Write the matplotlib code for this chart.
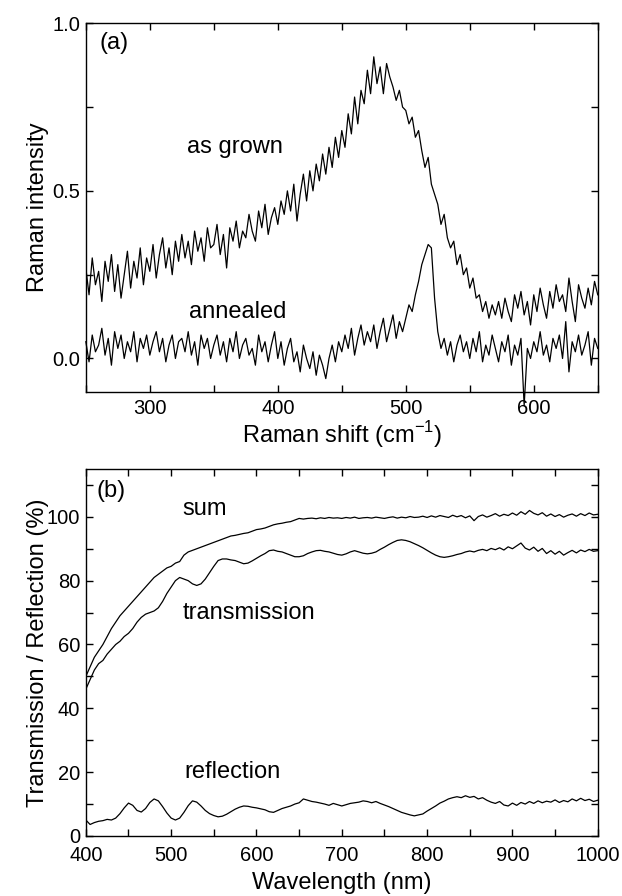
import matplotlib
matplotlib.use("Agg")
import matplotlib.pyplot as plt
import numpy as np
from matplotlib.ticker import MultipleLocator

plt.rcParams["font.family"] = ["Liberation Sans", "DejaVu Sans"]
plt.rcParams["mathtext.fontset"] = "custom"
plt.rcParams["mathtext.rm"] = "Liberation Sans"

# ---- (a) Raman spectra, sampled every 2.5 cm-1 from 250 to 650 ----
raman_shift = np.arange(250, 650.1, 2.5)

as_grown = [
    0.27, 0.19, 0.30, 0.22, 0.26, 0.17, 0.29, 0.23, 0.31, 0.20,
    0.28, 0.18, 0.25, 0.32, 0.21, 0.29, 0.24, 0.33, 0.22, 0.30,
    0.26, 0.34, 0.24, 0.31, 0.36, 0.27, 0.33, 0.25, 0.35, 0.29,
    0.37, 0.30, 0.35, 0.28, 0.38, 0.32, 0.36, 0.29, 0.39, 0.33,
    0.34, 0.40, 0.31, 0.37, 0.27, 0.39, 0.35, 0.41, 0.33, 0.38,
    0.36, 0.43, 0.38, 0.35, 0.44, 0.39, 0.46, 0.37, 0.42, 0.45,
    0.40, 0.47, 0.43, 0.50, 0.44, 0.52, 0.41, 0.49, 0.55, 0.47,
    0.56, 0.50, 0.58, 0.53, 0.61, 0.55, 0.63, 0.57, 0.66, 0.60,
    0.68, 0.63, 0.73, 0.67, 0.78, 0.70, 0.80, 0.76, 0.86, 0.79,
    0.90, 0.82, 0.87, 0.79, 0.88, 0.84, 0.81, 0.77, 0.80, 0.75,
    0.74, 0.70, 0.72, 0.66, 0.68, 0.62, 0.57, 0.60, 0.52, 0.49,
    0.46, 0.40, 0.43, 0.36, 0.33, 0.35, 0.28, 0.31, 0.25, 0.27,
    0.21, 0.24, 0.18, 0.19, 0.14, 0.17, 0.12, 0.16, 0.13, 0.17,
    0.12, 0.18, 0.14, 0.11, 0.19, 0.15, 0.20, 0.13, 0.17, 0.10,
    0.19, 0.14, 0.21, 0.16, 0.12, 0.20, 0.15, 0.22, 0.17, 0.19,
    0.14, 0.24, 0.17, 0.11, 0.22, 0.18, 0.15, 0.21, 0.16, 0.23,
    0.19,
]

annealed = [
    0.05, -0.01, 0.07, 0.02, 0.04, 0.09, 0.01, 0.06, -0.02, 0.08,
    0.03, 0.07, 0.00, 0.05, 0.02, 0.08, -0.01, 0.06, 0.03, 0.07,
    0.01, 0.05, 0.08, 0.02, 0.06, -0.01, 0.04, 0.07, 0.00, 0.05,
    0.06, 0.02, 0.08, 0.01, 0.05, -0.02, 0.07, 0.03, 0.06, 0.00,
    0.04, 0.07, 0.01, 0.05, -0.01, 0.06, 0.02, 0.08, 0.00, 0.04,
    0.06, 0.01, 0.03, -0.02, 0.07, 0.02, 0.05, -0.01, 0.04, 0.08,
    0.00, 0.05, -0.02, 0.03, 0.06, -0.01, 0.02, -0.04, 0.04, 0.00,
    -0.03, 0.02, -0.05, 0.01, -0.02, -0.06, 0.00, 0.04, -0.01, 0.05,
    0.02, 0.07, 0.03, 0.09, 0.01, 0.06, 0.10, 0.04, 0.08, 0.05,
    0.10, 0.03, 0.08, 0.12, 0.05, 0.09, 0.13, 0.06, 0.11, 0.08,
    0.12, 0.16, 0.14, 0.19, 0.23, 0.28, 0.31, 0.34, 0.33, 0.18,
    0.08, 0.03, 0.06, 0.01, 0.05, -0.01, 0.04, 0.07, 0.02, 0.05,
    0.00, 0.06, 0.02, 0.08, -0.01, 0.04, 0.01, 0.07, 0.03, -0.01,
    0.05, 0.02, 0.07, -0.02, 0.04, 0.01, 0.06, -0.14, 0.03, 0.00,
    0.05, 0.02, 0.08, 0.01, 0.04, -0.01, 0.06, 0.03, 0.07, 0.00,
    0.11, -0.04, 0.05, 0.02, 0.07, 0.01, 0.04, 0.08, -0.02, 0.06,
    0.03,
]

# ---- (b) optical spectra, sampled every 5 nm from 400 to 1000 ----
wavelength = np.arange(400, 1000.1, 5)

total = [
    50.0, 53.0, 56.0, 58.0, 60.0, 62.5, 65.0, 67.0, 69.0, 70.5,
    72.0, 73.5, 75.0, 76.5, 78.0, 79.5, 81.0, 82.0, 83.0, 84.0,
    84.5, 85.5, 86.0, 88.0, 89.0, 89.5, 90.0, 90.5, 91.0, 91.5,
    92.0, 92.5, 93.0, 93.5, 94.0, 94.2, 94.5, 94.8, 95.0, 95.5,
    96.0, 96.2, 96.5, 97.0, 97.5, 97.8, 98.0, 98.3, 98.5, 99.0,
    99.5, 99.3, 99.5, 99.6, 99.4, 99.7, 99.5, 99.8, 99.6, 99.7,
    99.5, 99.8, 99.6, 99.9, 99.5, 99.7, 99.8, 99.6, 99.9, 99.7,
    99.5, 99.8, 100.0, 99.6, 99.9, 99.7, 100.1, 99.8, 99.9, 100.2,
    99.8, 100.3, 99.9, 100.4, 100.1, 99.8, 100.5, 100.0, 100.4, 99.7,
    100.3, 98.8, 100.1, 100.6, 99.9, 100.4, 101.0, 100.2, 100.8, 100.4,
    101.2, 100.5, 101.6, 100.8, 102.0, 101.1, 100.6, 101.3, 100.2, 100.9,
    100.1, 100.7, 99.9, 100.5, 100.9, 100.2, 101.0, 100.4, 101.2, 100.6,
    100.8,
]

transmission = [
    46.0, 49.0, 52.0, 54.0, 55.0, 57.0, 58.5, 60.0, 61.0, 62.5,
    63.5, 65.0, 67.0, 68.5, 69.5, 70.0, 70.5, 71.5, 73.5, 76.0,
    78.0, 80.0, 81.0, 80.5, 80.0, 79.0, 78.5, 79.0, 80.5, 82.5,
    84.5, 86.3, 86.8, 86.8, 86.5, 86.3, 85.8, 85.3, 85.5, 86.2,
    87.0, 87.8, 88.5, 89.4, 89.6, 89.2, 89.0, 88.5, 88.0, 87.5,
    87.5, 87.8, 88.5, 89.0, 89.4, 89.5, 89.2, 89.0, 88.6, 88.2,
    88.0, 88.4, 89.0, 89.4, 89.0, 88.6, 88.4, 88.6, 89.0, 89.8,
    90.5, 91.3, 92.0, 92.6, 92.8, 92.6, 92.2, 91.6, 91.0, 90.3,
    89.5, 88.7, 88.0, 87.5, 87.3, 87.5, 87.8, 88.2, 88.5, 89.0,
    89.3, 89.0, 89.5, 89.8, 89.4, 90.1, 89.7, 90.3, 89.6, 90.6,
    90.0, 90.9, 91.8, 90.2, 89.6, 90.5, 89.2, 90.1, 88.5, 89.4,
    88.3, 89.2, 88.0, 88.8, 89.5, 88.7, 89.6, 89.1, 89.8, 89.2,
    89.4,
]

reflection = [
    5.0, 3.6, 4.2, 4.6, 4.8, 5.2, 5.0, 5.6, 7.0, 8.8,
    10.3, 9.6, 8.0, 7.5, 8.6, 10.5, 11.6, 11.0, 9.2, 7.2,
    5.6, 5.0, 5.6, 7.4, 9.5, 11.0, 10.6, 9.4, 8.0, 7.0,
    6.4, 6.0, 6.2, 6.8, 7.6, 8.4, 9.0, 9.4, 9.3, 9.0,
    8.8, 8.5, 8.2, 7.6, 7.4, 8.0, 8.6, 9.0, 9.4, 10.0,
    10.4, 11.6, 11.2, 10.8, 10.6, 10.3, 10.0, 9.6, 10.2, 9.8,
    9.4, 9.8, 10.2, 10.4, 10.6, 11.0, 10.8, 10.4, 10.8, 10.2,
    9.7, 9.2, 8.6, 8.0, 7.4, 7.0, 6.6, 6.3, 6.6, 6.9,
    7.8, 8.6, 9.4, 10.3, 10.9, 11.6, 12.0, 12.3, 12.0, 12.6,
    12.1, 12.4, 11.6, 12.0, 11.2, 10.6, 10.2, 10.8, 9.7, 9.4,
    10.3, 9.6, 10.5, 10.0, 10.8, 10.2, 11.0, 10.4, 10.9, 10.6,
    11.3, 10.5, 11.1, 10.7, 11.6, 11.0, 11.8, 11.1, 11.5, 10.8,
    11.2,
]

fig = plt.figure(figsize=(6.22, 8.96), dpi=100)
ax_a = fig.add_axes([0.138, 0.5625, 0.823, 0.4115])
ax_b = fig.add_axes([0.138, 0.067, 0.823, 0.4096])

line_kw = dict(color="black", lw=0.9)
ax_a.plot(raman_shift, as_grown, **line_kw)
ax_a.plot(raman_shift, annealed, clip_on=False, **line_kw)
ax_a.set_xlim(250, 650)
ax_a.set_ylim(-0.1, 1.0)
ax_a.xaxis.set_major_locator(MultipleLocator(100))
ax_a.xaxis.set_minor_locator(MultipleLocator(50))
ax_a.yaxis.set_major_locator(MultipleLocator(0.5))
ax_a.yaxis.set_minor_locator(MultipleLocator(0.25))
ax_a.set_xlabel("Raman shift (cm$^{-1}$)", fontsize=17, labelpad=1)
ax_a.set_ylabel("Raman intensity", fontsize=17)

txt_kw = dict(fontsize=17, va="center", ha="left")
ax_a.text(261, 0.94, "(a)", **txt_kw)
ax_a.text(329, 0.63, "as grown", **txt_kw)
ax_a.text(331, 0.14, "annealed", **txt_kw)

ax_b.plot(wavelength, total, **line_kw)
ax_b.plot(wavelength, transmission, **line_kw)
ax_b.plot(wavelength, reflection, **line_kw)
ax_b.set_xlim(400, 1000)
ax_b.set_ylim(0, 115)
ax_b.xaxis.set_major_locator(MultipleLocator(100))
ax_b.xaxis.set_minor_locator(MultipleLocator(50))
ax_b.yaxis.set_major_locator(MultipleLocator(20))
ax_b.yaxis.set_minor_locator(MultipleLocator(10))
ax_b.set_xlabel("Wavelength (nm)", fontsize=17, labelpad=5)
ax_b.set_ylabel("Transmission / Reflection (%)", fontsize=17)

ax_b.text(413, 108, "(b)", **txt_kw)
ax_b.text(513, 102.5, "sum", **txt_kw)
ax_b.text(513, 70, "transmission", **txt_kw)
ax_b.text(516, 20, "reflection", **txt_kw)

for ax in (ax_a, ax_b):
    ax.tick_params(which="both", direction="in", top=True, right=True,
                   length=5, width=1, labelsize=14.5)
    ax.tick_params(axis="y", pad=4)
    for sp in ax.spines.values():
        sp.set_linewidth(1)
    ax.yaxis.set_label_coords(-0.072, 0.5)

ax_a.tick_params(axis="x", pad=5)
ax_b.tick_params(axis="x", pad=7.5)

fig.savefig("out.png", dpi=100)
